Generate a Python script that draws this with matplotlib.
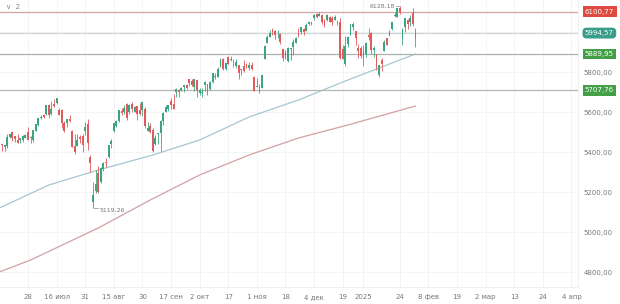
import numpy as np
import pandas as pd
import matplotlib
matplotlib.use('Agg')
import matplotlib.pyplot as plt
import matplotlib.transforms as mtransforms

# trading days (US market holidays removed)
holidays = ['2024-06-19', '2024-07-04', '2024-09-02', '2024-11-28',
            '2024-12-25', '2025-01-01', '2025-01-09', '2025-01-20']
dates = pd.bdate_range('2024-06-12', '2025-02-03', freq='C', holidays=holidays)

opens = [
    5409, 5441, 5424, 5431, 5477, 5499, 5481, 5459, 5461, 5461, 5473, 5499,
    5471, 5461, 5507, 5536, 5573, 5584, 5591, 5636, 5591, 5638, 5644, 5610, 5608, 5543, 5545, 5566, 5505, 5429, 5433, 5476, 5478, 5505,
    5537, 5376, 5151, 5206, 5294, 5253, 5316, 5351, 5376, 5442, 5505, 5531, 5557, 5603, 5603, 5637, 5603, 5640, 5602, 5629, 5607, 5612,
    5612, 5506, 5529, 5507, 5443, 5490, 5496, 5557, 5603, 5615, 5655, 5641, 5703, 5709, 5712, 5727, 5733, 5762, 5755, 5727,
    5758, 5698, 5698, 5737, 5737, 5714, 5752, 5778, 5775, 5830, 5866, 5817, 5876, 5860, 5858, 5832, 5835, 5816, 5827, 5834, 5820, 5832, 5775,
    5724, 5725, 5722, 5864, 5947, 5976, 6009, 6004, 5985, 5990, 5912, 5871, 5855, 5916, 5924, 5948, 5993, 6000, 6015, 6004,
    6040, 6042, 6069, 6089, 6081, 6084, 6058, 6060, 6074, 6069, 6063, 6053, 6048, 5912, 5842, 5941, 5985, 6025, 6006, 5921, 5920,
    5904, 5892, 5982, 5994, 5910, 5890, 5788, 5860, 5906, 5968, 5983, 6015, 6081, 6077, 6121, 5969, 6027, 6058, 6050, 6096,
    5970]
highs = [
    5447, 5441, 5432, 5488, 5490, 5506, 5482, 5490, 5472, 5483, 5491, 5524,
    5479, 5510, 5539, 5570, 5583, 5591, 5635, 5642, 5655, 5667, 5670, 5622, 5614, 5557, 5566, 5586, 5508, 5491, 5488, 5487, 5489, 5551,
    5567, 5384, 5250, 5312, 5330, 5327, 5350, 5372, 5436, 5463, 5545, 5562, 5608, 5620, 5633, 5643, 5641, 5651, 5628, 5632, 5646, 5651,
    5623, 5552, 5546, 5522, 5485, 5497, 5561, 5600, 5636, 5637, 5670, 5690, 5721, 5715, 5725, 5735, 5741, 5767, 5764, 5765,
    5758, 5720, 5718, 5753, 5739, 5757, 5797, 5796, 5823, 5871, 5871, 5843, 5879, 5878, 5867, 5864, 5835, 5817, 5862, 5843, 5848, 5850, 5779,
    5772, 5742, 5783, 5933, 5983, 6012, 6018, 6010, 6009, 5993, 5916, 5909, 5925, 5920, 5964, 5976, 6021, 6025, 6021, 6044,
    6053, 6052, 6088, 6093, 6099, 6089, 6065, 6092, 6080, 6078, 6085, 6057, 6071, 5936, 5982, 5979, 6040, 6049, 6007, 5941, 5929,
    5935, 5950, 6021, 6001, 5928, 5891, 5837, 5871, 5960, 5969, 6012, 6052, 6100, 6119, 6128, 6018, 6069, 6063, 6086, 6121,
    6022]
lows = [
    5409, 5404, 5403, 5421, 5471, 5455, 5452, 5447, 5446, 5452, 5470, 5460,
    5446, 5451, 5505, 5531, 5563, 5570, 5587, 5571, 5583, 5625, 5640, 5584, 5522, 5498, 5525, 5551, 5427, 5390, 5430, 5444, 5399, 5485,
    5410, 5302, 5119, 5194, 5195, 5243, 5306, 5323, 5370, 5420, 5502, 5526, 5550, 5586, 5592, 5561, 5591, 5602, 5598, 5561, 5585, 5582,
    5518, 5503, 5493, 5402, 5434, 5442, 5406, 5536, 5601, 5605, 5614, 5615, 5677, 5675, 5705, 5699, 5715, 5728, 5728, 5704,
    5675, 5683, 5675, 5703, 5686, 5711, 5746, 5764, 5775, 5824, 5808, 5809, 5840, 5853, 5824, 5822, 5763, 5784, 5800, 5820, 5810, 5811, 5703,
    5723, 5697, 5722, 5864, 5945, 5977, 5986, 5965, 5970, 5942, 5854, 5865, 5850, 5860, 5884, 5945, 5973, 5992, 5985, 6004,
    6033, 6034, 6061, 6071, 6079, 6042, 6023, 6056, 6050, 6036, 6059, 6036, 5867, 5866, 5832, 5926, 5983, 6008, 5933, 5869, 5869,
    5829, 5877, 5960, 5891, 5874, 5809, 5773, 5805, 5906, 5933, 5983, 6010, 6076, 6075, 6089, 5933, 6002, 6013, 6028, 6031,
    5923]
closes = [
    5421, 5434, 5432, 5473, 5487, 5473, 5465, 5448, 5469, 5478, 5483, 5460,
    5475, 5509, 5537, 5567, 5573, 5577, 5634, 5585, 5615, 5631, 5667, 5588, 5545, 5505, 5564, 5556, 5427, 5399, 5459, 5464, 5436, 5522,
    5447, 5347, 5186, 5240, 5200, 5319, 5344, 5344, 5434, 5455, 5543, 5554, 5608, 5597, 5621, 5571, 5635, 5617, 5626, 5592, 5592, 5648,
    5529, 5520, 5503, 5408, 5471, 5496, 5554, 5596, 5626, 5633, 5635, 5618, 5714, 5703, 5719, 5733, 5722, 5745, 5738, 5762,
    5709, 5710, 5700, 5751, 5696, 5751, 5792, 5780, 5815, 5860, 5815, 5842, 5841, 5865, 5854, 5851, 5797, 5810, 5808, 5824, 5833, 5814, 5705,
    5729, 5713, 5783, 5929, 5973, 5996, 6001, 5984, 5985, 5949, 5871, 5894, 5917, 5917, 5949, 5969, 5987, 6022, 5999, 6032,
    6047, 6050, 6086, 6075, 6090, 6053, 6035, 6084, 6051, 6051, 6074, 6051, 5872, 5867, 5931, 5974, 6040, 6038, 5971, 5907, 5882,
    5869, 5942, 5975, 5909, 5918, 5827, 5836, 5843, 5950, 5937, 5997, 6049, 6086, 6119, 6101, 6012, 6068, 6039, 6071, 6041,
    5995]

# moving averages
ma100_dates = ['2024-06-12', '2024-07-11', '2024-08-07', '2024-09-06', '2024-10-02',
               '2024-10-29', '2024-11-25', '2024-12-23', '2025-01-10', '2025-02-03']
ma100_vals = [5120, 5235, 5310, 5385, 5460, 5575, 5660, 5760, 5815, 5890]
ma200_dates = ['2024-06-12', '2024-07-01', '2024-08-07', '2024-09-05', '2024-10-02',
               '2024-10-29', '2024-11-25', '2024-12-23', '2025-02-03']
ma200_vals = [4800, 4860, 5020, 5160, 5285, 5385, 5470, 5535, 5630]

levels = [6100.77, 5994.57, 5889.95, 5707.76]
level_line_colors = ['#d9a3a3', '#cdd5d6', '#a9b2ad', '#b3b6b3']
level_box_colors = ['#e0493f', '#3a9d8a', '#43a047', '#43a047']

y_ticks = [4800, 5000, 5200, 5400, 5600, 5800]
x_tick_dates = ['2024-06-28', '2024-07-16', '2024-07-31', '2024-08-15', '2024-08-30',
                '2024-09-17', '2024-10-02', '2024-10-17', '2024-11-01', '2024-11-18',
                '2024-12-04', '2024-12-19', '2025-01-02', '2025-01-24', '2025-02-08',
                '2025-02-19', '2025-03-02', '2025-03-13', '2025-03-24', '2025-04-04']
x_tick_labels = ['28', '16 июл', '31', '15 авг', '30', '17 сен', '2 окт', '17', '1 ноя',
                 '18', '4 дек', '19', '2025', '24', '8 фев', '19', '2 мар', '13', '24', '4 апр']

last = dates[-1]
def pos(d):
    d = pd.Timestamp(d)
    if d <= last:
        return dates.get_loc(d)
    return len(dates) - 1 + (d - last).days

fig = plt.figure(figsize=(6.2, 3.04), dpi=100)
ax = fig.add_axes([0, 17/304, 578/620, 287/304])

xt = [pos(d) for d in x_tick_dates]
for x in xt:
    ax.axvline(x, color='#f3f3f3', lw=0.6, zorder=0)
for y in y_ticks + [6000]:
    ax.axhline(y, color='#f3f3f3', lw=0.6, zorder=0)

# moving averages
ax.plot([pos(d) for d in ma200_dates], ma200_vals, color='#d4a0a2', lw=0.9, zorder=1)
ax.plot([pos(d) for d in ma100_dates], ma100_vals, color='#a7c6d2', lw=0.9, zorder=1)

# horizontal levels
for lv, c in zip(levels, level_line_colors):
    ax.axhline(lv, color=c, lw=0.9, zorder=1)

# candles
o = np.array(opens); h = np.array(highs); l = np.array(lows); c = np.array(closes)
idx = np.arange(len(dates))
cols = np.where(c >= o, '#3aa57e', '#e05a5e')
ax.vlines(idx, l, h, colors=cols, lw=0.6, zorder=2)
ax.bar(idx, np.abs(c - o) + 1.5, bottom=np.minimum(o, c) - 0.75, width=0.72,
       color=cols, lw=0, zorder=3)

# high/low annotations
i_hi = int(np.argmax(h)); i_lo = int(np.argmin(l))
ax.plot([i_hi - 1.6, i_hi - 0.4], [h[i_hi], h[i_hi]], color='#888888', lw=0.5)
ax.text(i_hi - 1.9, h[i_hi], f'{h[i_hi] + 0.18:.2f}'.replace('.', ','), fontsize=4.5,
        color='#777777', ha='right', va='center')
ax.plot([i_lo + 0.4, i_lo + 1.8], [l[i_lo], l[i_lo]], color='#888888', lw=0.5)
ax.text(i_lo + 2.4, l[i_lo] - 8, f'{l[i_lo] + 0.26:.2f}'.replace('.', ','), fontsize=4.5,
        color='#777777', ha='left', va='center')

ax.set_xlim(0.23, 222.5)
ax.set_ylim(4725, 6160)

ax.set_xticks(xt)
ax.set_xticklabels([])
xtrans = mtransforms.blended_transform_factory(ax.transData, ax.transAxes)
for x, lab in zip(xt, x_tick_labels):
    ax.text(x, -0.043, lab, transform=xtrans, fontsize=5, color='#777777',
            ha='center', va='baseline', clip_on=False)

ax.yaxis.tick_right()
ax.set_yticks(y_ticks)
ax.set_yticklabels([f'{v:.2f}'.replace('.', ',') for v in y_ticks])
ax.tick_params(axis='both', length=0, labelsize=5, labelcolor='#777777')
ax.tick_params(axis='y', pad=4)

for s in ['top', 'left']:
    ax.spines[s].set_visible(False)
for s in ['bottom', 'right']:
    ax.spines[s].set_color('#eeeeee')
    ax.spines[s].set_linewidth(0.6)

trans = mtransforms.blended_transform_factory(ax.transAxes, ax.transData)
for lv, bc in zip(levels, level_box_colors):
    style = 'round,pad=0.35,rounding_size=0.6' if bc == '#3a9d8a' else 'square,pad=0.35'
    ax.text(1.012, lv, f'{lv:.2f}'.replace('.', ','), transform=trans, fontsize=5,
            color='white', ha='left', va='center', clip_on=False,
            bbox=dict(boxstyle=style, fc=bc, ec='none'))

ax.text(0.01, 0.985, '∨  2', transform=ax.transAxes, fontsize=5, color='#888888',
        ha='left', va='top')

fig.savefig('out.png', dpi=100)
